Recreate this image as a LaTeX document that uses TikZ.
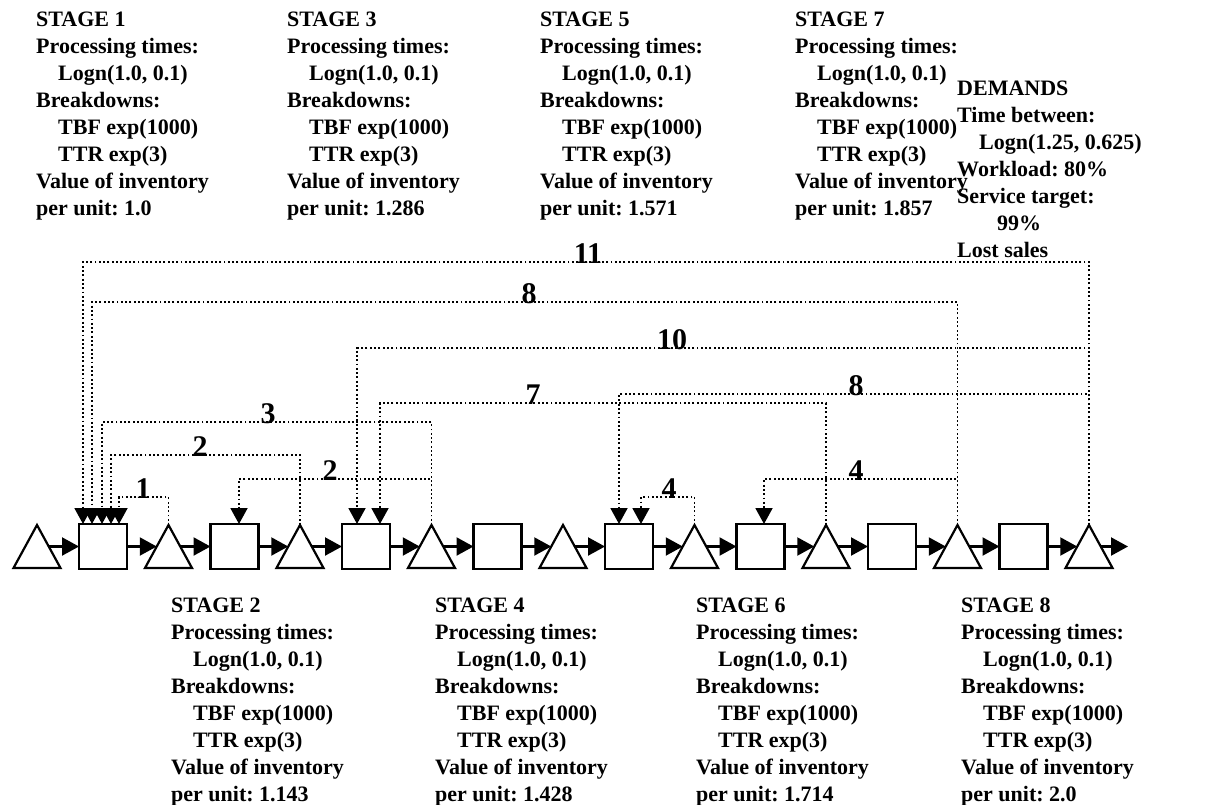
\documentclass[tikz,border=0pt]{standalone}
\usepackage{fontspec}
\setmainfont{Liberation Serif}
\usetikzlibrary{arrows.meta}

\newcommand{\sangria}{\hspace*{22pt}}
\frenchspacing

\begin{document}
\begin{tikzpicture}[x=1pt, y=-1pt,
    forma/.style={line width=2.2pt},
    caja/.style={forma, draw, minimum width=48pt, minimum height=45pt, inner sep=0pt, outer sep=0pt},
    flujo/.style={forma, -{Triangle[length=17pt, width=18pt]}},
    senal/.style={line width=1.9pt, dash pattern=on 1.9pt off 2.4pt, -{Triangle[length=16pt, width=17pt]}},
    bloque/.style={anchor=north west, align=left, inner sep=0pt, font=\fontsize{22}{27}\selectfont\bfseries},
    num/.style={anchor=base, inner sep=0pt, font=\fontsize{30}{30}\selectfont\bfseries}]
  \useasboundingbox (0,0) rectangle (1205,804);

  % --- linea: almacenes (triangulos) y maquinas (cajas) ---
  \foreach \k [evaluate=\k as \x using 37+131.5*\k] in {0,...,8} {
    \coordinate (t\k) at (\x,525);
    \coordinate (tw\k) at (\x-11.75,546.5);
    \coordinate (te\k) at (\x+11.75,546.5);
    \draw[forma] (\x-23.5,568) -- (t\k) -- (\x+23.5,568) -- cycle;
  }
  \foreach \k [evaluate=\k as \x using 103+131.5*(\k-1)] in {1,...,8}
    \node[caja] (s\k) at (\x,546.5) {};
  \coordinate (fin) at (1128,546.5);

  % --- flechas de material ---
  \foreach \k [count=\j from 0] in {1,...,8} {
    \draw[flujo] (te\j) -- (s\k.west);
    \draw[flujo] (s\k.east) -- (tw\k);
  }
  \draw[flujo] (te8) -- (fin);

  % --- senales de control (punteadas) con su numero ---
  \foreach \de/\a/\dx/\nivel/\num/\xn [count=\i] in {
      t1/s1/16/497/1/143,
      t2/s1/8/455/2/200,
      t3/s1/-1/422/3/268,
      t7/s1/-11/302/8/529,
      t8/s1/-20/262/11/588,
      t3/s2/4.5/479/2/330,
      t8/s3/-9/348/10/672,
      t6/s3/14/403/7/533,
      t8/s5/-10/394/8/856,
      t5/s5/12/497/4/669,
      t7/s6/3.5/479/4/856} {
    \draw[senal] (\de) -- (\de |- 0,\nivel) -| ([xshift=\dx pt]\a.north);
    \node[num] (n\i) at (\xn,\nivel+1.5) {\num};
  }

  % --- datos de cada etapa ---
  \foreach \n/\v/\x/\y in {1/1.0/36/11.6, 3/1.286/287/11.6, 5/1.571/540/11.6, 7/1.857/795/11.6,
      2/1.143/171/597.6, 4/1.428/435/597.6, 6/1.714/696/597.6, 8/2.0/961/597.6}
    \node[bloque] (etapa\n) at (\x,\y) {STAGE \n\\Processing times:\\\sangria Logn(1.0, 0.1)\\Breakdowns:\\\sangria TBF exp(1000)\\\sangria TTR exp(3)\\Value of inventory\\per unit: \v};

  % --- demanda ---
  \node[bloque] (demanda) at (957,80.7) {DEMANDS\\Time between:\\\sangria Logn(1.25, 0.625)\\Workload: 80\%\\Service target:\\\hspace*{40pt}99\%\\Lost sales};
\end{tikzpicture}
\end{document}
